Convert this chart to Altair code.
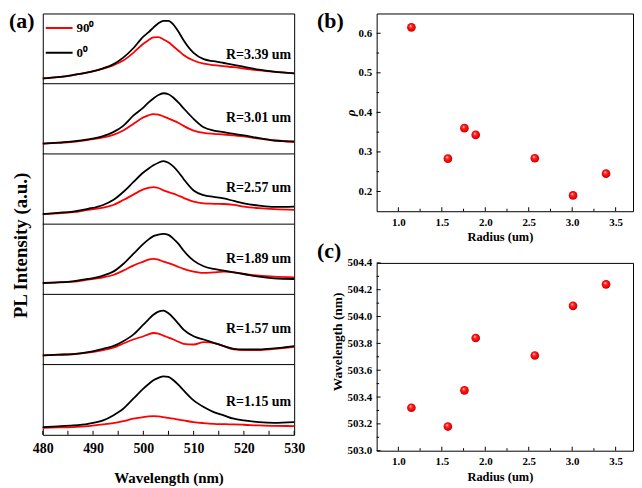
import altair as alt
import pandas as pd

SERIF = "Liberation Serif"

# ---------------- panel (a): PL spectra ----------------
wavelength = [480, 483, 486, 489, 492, 494, 496, 498, 500, 501, 502, 503, 504,
              505, 506, 507, 508, 510, 512, 514, 516, 518, 520, 523, 526, 530]

radius_labels = ["R=3.39 um", "R=3.01 um", "R=2.57 um", "R=1.89 um", "R=1.57 um", "R=1.15 um"]
label_level = [0.41, 0.51, 0.51, 0.51, 0.51, 0.46]

black_339 = [.076, .095, .124, .162, .219, .276, .371, .505, .67, .73, .80, .86, .895,
             .895, .84, .74, .62, .44, .35, .32, .295, .27, .24, .2, .172, .148]
red_339 = [.076, .095, .124, .162, .214, .262, .33, .44, .57, .62, .66, .665, .63,
           .59, .53, .47, .41, .33, .285, .265, .25, .235, .215, .19, .17, .148]
black_301 = [.146, .16, .178, .207, .254, .31, .40, .545, .66, .73, .79, .84, .864,
             .85, .80, .73, .65, .50, .38, .333, .31, .286, .263, .225, .19, .178]
red_301 = [.146, .157, .172, .2, .235, .272, .333, .427, .52, .55, .568, .56, .535,
           .505, .474, .44, .40, .333, .30, .286, .277, .263, .25, .218, .195, .17]
black_257 = [.144, .162, .18, .218, .273, .343, .458, .597, .736, .79, .838, .875, .898,
             .875, .82, .74, .644, .48, .412, .389, .366, .33, .296, .264, .245, .25]
red_257 = [.144, .155, .17, .204, .236, .273, .343, .42, .495, .515, .528, .515, .48,
           .455, .435, .405, .375, .32, .296, .29, .287, .273, .25, .227, .213, .204]
black_189 = [.162, .171, .186, .219, .267, .324, .433, .576, .719, .78, .829, .852, .862,
             .848, .79, .72, .624, .48, .40, .362, .338, .314, .29, .252, .229, .219]
red_189 = [.162, .17, .18, .21, .243, .276, .338, .41, .467, .495, .505, .495, .467,
           .445, .419, .39, .362, .324, .305, .314, .324, .314, .29, .267, .252, .243]
black_157 = [.131, .141, .15, .178, .225, .263, .333, .427, .568, .64, .709, .755, .77,
             .73, .662, .58, .498, .404, .357, .31, .263, .225, .216, .216, .23, .263]
red_157 = [.131, .138, .147, .169, .207, .24, .30, .357, .404, .43, .45, .44, .413,
           .385, .357, .325, .296, .286, .319, .31, .263, .216, .207, .207, .225, .254]
black_115 = [.11, .12, .133, .157, .205, .276, .371, .514, .657, .72, .776, .81, .833,
             .824, .776, .71, .633, .49, .395, .324, .276, .229, .205, .181, .171, .181]
red_115 = [.10, .105, .11, .124, .148, .167, .195, .229, .252, .262, .267, .262, .252,
           .24, .229, .217, .205, .181, .167, .157, .152, .148, .143, .133, .128, .124]

pol_names = ["90\u2070", "0\u2070"]
pol_colors = ["#ff0000", "#000000"]

wl_ticks = [480, 485, 490, 495, 500, 505, 510, 515, 520, 525, 530]
wl_labels = [480, 490, 500, 510, 520, 530]
separators = [1, 2, 3, 4, 5]

# ---------------- panels (b) and (c) ----------------
radius = [1.15, 1.57, 1.76, 1.89, 2.57, 3.01, 3.39]
rho = [0.615, 0.283, 0.36, 0.343, 0.284, 0.19, 0.245]
peak_wl = [503.32, 503.18, 503.45, 503.84, 503.71, 504.08, 504.24]

r_major = [1.0, 1.5, 2.0, 2.5, 3.0, 3.5]
r_minor = [1.25, 1.75, 2.25, 2.75, 3.25]
rho_major = [0.2, 0.3, 0.4, 0.5, 0.6]
rho_minor = [0.25, 0.35, 0.45, 0.55]
pk_major = [503.0, 503.2, 503.4, 503.6, 503.8, 504.0, 504.2, 504.4]
pk_minor = [503.1, 503.3, 503.5, 503.7, 503.9, 504.1, 504.3]

# ---------------- build tables ----------------
red_sets = [red_339, red_301, red_257, red_189, red_157, red_115]
black_sets = [black_339, black_301, black_257, black_189, black_157, black_115]
rows = []
for pol, sets in ((pol_names[0], red_sets), (pol_names[1], black_sets)):
    for i, vals in enumerate(sets):
        off = 5 - i
        for w, v in zip(wavelength, vals):
            rows.append({"wl": w, "y": v + off, "pol": pol, "panel": f"{pol}-{i}"})
df_a = pd.DataFrame(rows)
df_lab = pd.DataFrame({"label": radius_labels,
                       "y": [lv + 5 - i for i, lv in enumerate(label_level)],
                       "wl": [529.4] * 6})
df_sep = pd.DataFrame({"y": separators})
df_wt = pd.DataFrame({"wl": wl_ticks})

WA, HA = 253, 424
WB, HB = 258, 199
WC, HC = 258, 189

xs_a = alt.Scale(domain=[480, 530], nice=False, zero=False)
ys_a = alt.Scale(domain=[0, 6], nice=False, zero=False)

lines = alt.Chart(df_a).mark_line(strokeWidth=1.8, interpolate="monotone").encode(
    x=alt.X("wl:Q", scale=xs_a,
            axis=alt.Axis(values=wl_labels, tickCount=len(wl_labels),
                          title="Wavelength (nm)", labelFontSize=14,
                          titleFontSize=15, labelPadding=7, titlePadding=15)),
    y=alt.Y("y:Q", scale=ys_a,
            axis=alt.Axis(title="PL Intensity (a.u.)", labels=False, titleFontSize=19,
                          titlePadding=12, titleY=233)),
    color=alt.Color("pol:N", scale=alt.Scale(domain=pol_names, range=pol_colors),
                    legend=alt.Legend(orient="none", legendX=2, legendY=7, title=None,
                                      symbolType="stroke", symbolSize=729,
                                      symbolStrokeWidth=2, labelFontSize=13,
                                      labelFont=SERIF, labelFontWeight="bold",
                                      clipHeight=15, rowPadding=10, labelOffset=3,
                                      padding=0)),
    detail="panel:N",
)
seps = alt.Chart(df_sep).mark_rule(color="black", strokeWidth=1).encode(
    y=alt.Y("y:Q", scale=ys_a))
wticks = alt.Chart(df_wt).mark_rule(color="black", strokeWidth=1).encode(
    x=alt.X("wl:Q", scale=xs_a), y=alt.value(HA), y2=alt.value(HA - 4))
rlabels = alt.Chart(df_lab).mark_text(align="right", baseline="middle", font=SERIF,
                                      fontWeight="bold", fontSize=14, color="black").encode(
    x=alt.X("wl:Q", scale=xs_a), y=alt.Y("y:Q", scale=ys_a), text="label:N")


def panel_tag(tag, dx, dy):
    return alt.Chart(pd.DataFrame({"t": [tag]})).mark_text(
        align="left", baseline="top", font=SERIF, fontWeight="bold", fontSize=22,
        color="black").encode(text="t:N", x=alt.value(dx), y=alt.value(dy))


A = alt.layer(lines, seps, wticks, rlabels, panel_tag("(a)", -34, -2)).properties(
    width=WA, height=HA)

sphere = {"gradient": "radial",
          "x1": 0.38, "y1": 0.32, "r1": 0.0,
          "x2": 0.5, "y2": 0.5, "r2": 0.55,
          "stops": [{"offset": 0.0, "color": "#ffffff"},
                    {"offset": 0.3, "color": "#ff2a2a"},
                    {"offset": 0.75, "color": "#ee0000"},
                    {"offset": 1.0, "color": "#b00000"}]}

xs_r = alt.Scale(domain=[0.75, 3.7], nice=False, zero=False)
ys_b = alt.Scale(domain=[0.15, 0.65], nice=False, zero=False)
ys_c = alt.Scale(domain=[503.0, 504.4], nice=False, zero=False)

df_b = pd.DataFrame({"r": radius, "rho": rho, "pk": peak_wl})


def ticks_x(vals, h, length):
    return alt.Chart(pd.DataFrame({"r": vals})).mark_rule(color="black").encode(
        x=alt.X("r:Q", scale=xs_r), y=alt.value(h), y2=alt.value(h - length))


def ticks_y(vals, field, scale, length):
    return alt.Chart(pd.DataFrame({field: vals})).mark_rule(color="black").encode(
        y=alt.Y(f"{field}:Q", scale=scale), x=alt.value(0), x2=alt.value(length))


def radius_axis(pad):
    return alt.Axis(values=r_major, tickCount=len(r_major), format=".1f",
                    title="Radius (um)", labelFontSize=11, titleFontSize=12.5,
                    labelPadding=5, titlePadding=pad, titleX=124)


pts_b = alt.Chart(df_b).mark_circle(size=76, opacity=1, fill=sphere).encode(
    x=alt.X("r:Q", scale=xs_r, axis=radius_axis(3)),
    y=alt.Y("rho:Q", scale=ys_b,
            axis=alt.Axis(values=rho_major, tickCount=len(rho_major), format=".1f",
                          title="\u03c1", labelFontSize=11, titleFontSize=13,
                          titleFontStyle="italic", labelPadding=5, titlePadding=1)))
B = alt.layer(pts_b, ticks_x(r_major, HB, 4), ticks_x(r_minor, HB, 2.5),
              ticks_y(rho_major, "rho", ys_b, 4), ticks_y(rho_minor, "rho", ys_b, 2.5),
              panel_tag("(b)", -60, -2)).properties(width=WB, height=HB)

pts_c = alt.Chart(df_b).mark_circle(size=76, opacity=1, fill=sphere).encode(
    x=alt.X("r:Q", scale=xs_r, axis=radius_axis(4)),
    y=alt.Y("pk:Q", scale=ys_c,
            axis=alt.Axis(values=pk_major, tickCount=len(pk_major), format=".1f",
                          title="Wavelength (nm)", labelFontSize=11, titleFontSize=13.5,
                          labelPadding=5, titlePadding=3, titleY=79)))
C = alt.layer(pts_c, ticks_x(r_major, HC, 4), ticks_x(r_minor, HC, 2.5),
              ticks_y(pk_major, "pk", ys_c, 4), ticks_y(pk_minor, "pk", ys_c, 2.5),
              panel_tag("(c)", -60, -22)).properties(width=WC, height=HC)

right = alt.vconcat(B, C, spacing=52, bounds="flush")
chart = alt.hconcat(A, right, spacing=83, bounds="flush").properties(
    padding={"left": 0, "top": 0, "right": 0, "bottom": 0}
).configure_axis(
    labelFont=SERIF, titleFont=SERIF, labelFontWeight="bold", titleFontWeight="bold",
    labelColor="black", titleColor="black", grid=False, ticks=False, domain=False,
    labelFlush=False, labelOverlap=False
).configure_view(stroke="black", strokeWidth=1)

chart.save("out.html", embed_options={"renderer": "svg", "actions": False})
